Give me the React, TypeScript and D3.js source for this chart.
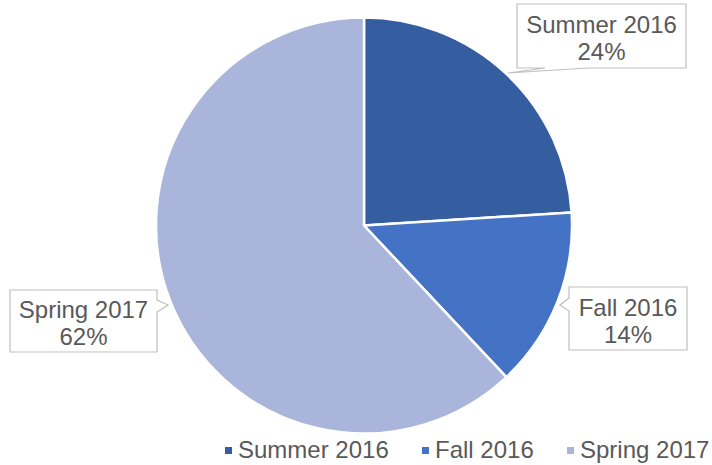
import React from "react";
import * as d3 from "d3";

const categories = ["Summer 2016", "Fall 2016", "Spring 2017"];
const values = [24, 14, 62];
const colors = ["#355ea1", "#4472c4", "#a9b5da"];

const W = 712;
const H = 465;
const cx = 364;
const cy = 225.5;
const R = 208;
const FONT = "Liberation Sans, Arial, sans-serif";
const TXT = "#595959";

// callout boxes: [x0, y0, x1, y1], pointer tip and pointer base
const callouts = [
  { box: [517, 4, 686, 68], side: "bottom", tip: [508, 73], base: [545, 588] },
  { box: [569, 287, 687, 350], side: "left", tip: [560, 305], base: [298, 311] },
  { box: [10, 290, 157, 352], side: "right", tip: [168, 305], base: [300, 312] },
];

function calloutPath(c: any) {
  const [x0, y0, x1, y1] = c.box;
  const [tx, ty] = c.tip;
  const [b0, b1] = c.base;
  if (c.side === "bottom") {
    return `M${x0},${y0}H${x1}V${y1}H${b1}L${tx},${ty}L${b0},${y1}H${x0}Z`;
  }
  if (c.side === "left") {
    return `M${x0},${y0}H${x1}V${y1}H${x0}V${b1}L${tx},${ty}L${x0},${b0}Z`;
  }
  return `M${x0},${y0}H${x1}V${b0}L${tx},${ty}L${x1},${b1}V${y1}H${x0}Z`;
}

export default function App() {
  const pie = d3.pie<number>().sort(null).value((d) => d)(values);
  const arc = d3.arc<d3.PieArcDatum<number>>().innerRadius(0).outerRadius(R);
  const total = d3.sum(values);
  const legendX = [225, 422, 567];
  return (
    <svg width={W} height={H} style={{ position: "absolute", left: 0, top: 0 }}>
      <rect width={W} height={H} fill="#ffffff" />
      <g transform={`translate(${cx},${cy})`}>
        {pie.map((p, i) => (
          <path key={i} d={arc(p) || ""} fill={colors[i]} stroke="#ffffff" strokeWidth={2.5} strokeLinejoin="round" />
        ))}
      </g>
      {callouts.map((c, i) => {
        const [x0, y0, x1, y1] = c.box;
        const mx = (x0 + x1) / 2;
        const my = (y0 + y1) / 2;
        return (
          <g key={i}>
            <path d={calloutPath(c)} fill="#ffffff" stroke="#bfbfbf" strokeWidth={1.2} />
            <text x={mx} y={my - 3} textAnchor="middle" fontFamily={FONT} fontSize={24} fill={TXT}>
              {categories[i]}
            </text>
            <text x={mx} y={my + 24} textAnchor="middle" fontFamily={FONT} fontSize={24} fill={TXT}>
              {Math.round((values[i] / total) * 100) + "%"}
            </text>
          </g>
        );
      })}
      {categories.map((c, i) => (
        <g key={c}>
          <rect x={legendX[i]} y={447} width={7} height={7} fill={colors[i]} />
          <text x={legendX[i] + 13} y={458} fontFamily={FONT} fontSize={24} fill={TXT}>
            {c}
          </text>
        </g>
      ))}
    </svg>
  );
}
